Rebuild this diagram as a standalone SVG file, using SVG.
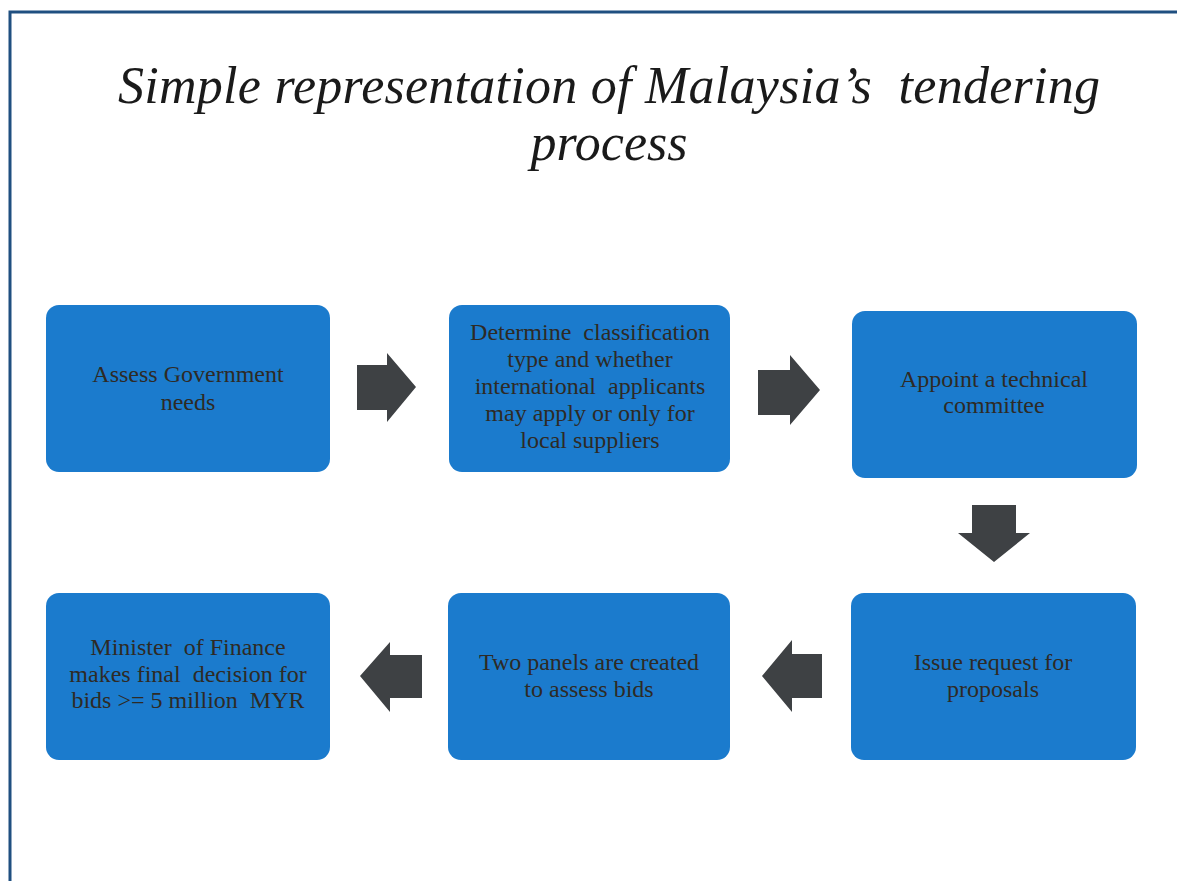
<svg xmlns="http://www.w3.org/2000/svg" width="1177" height="881" viewBox="0 0 1177 881" xml:space="preserve">
  <defs>
    <style>
      .title { font-family: "Liberation Serif", "Times New Roman", serif; font-style: italic; font-size: 52px; fill: #1a1a1a; white-space: pre; }
      .box { fill: #1b7bcd; }
      .label { font-family: "Liberation Serif", "Times New Roman", serif; font-size: 24px; fill: #2e2a25; text-anchor: middle; white-space: pre; }
      .arrow { fill: #3e4144; }
      .frame { stroke: #1f4f80; stroke-width: 3; fill: none; }
    </style>
  </defs>

  <rect width="1177" height="881" fill="#ffffff"/>

  <!-- slide frame: top and left edges -->
  <path class="frame" d="M10,881 V12 H1177"/>

  <!-- heading -->
  <g id="title">
    <text class="title" x="609" y="103" text-anchor="middle" textLength="982" lengthAdjust="spacing">Simple representation of Malaysia’s  tendering</text>
    <text class="title" x="609" y="160" text-anchor="middle">process</text>
  </g>

  <!-- process steps -->
  <g id="step-assess">
    <rect class="box" x="46" y="305" width="284" height="167" rx="13"/>
    <text class="label" x="188" y="382">Assess Government</text>
    <text class="label" x="188" y="410">needs</text>
  </g>

  <g id="step-classify">
    <rect class="box" x="449" y="305" width="281" height="167" rx="13"/>
    <text class="label" x="590" y="340">Determine  classification</text>
    <text class="label" x="590" y="367">type and whether</text>
    <text class="label" x="590" y="394">international  applicants</text>
    <text class="label" x="590" y="421">may apply or only for</text>
    <text class="label" x="590" y="448">local suppliers</text>
  </g>

  <g id="step-committee">
    <rect class="box" x="852" y="311" width="285" height="167" rx="13"/>
    <text class="label" x="994" y="387">Appoint a technical</text>
    <text class="label" x="994" y="413">committee</text>
  </g>

  <g id="step-request">
    <rect class="box" x="851" y="593" width="285" height="167" rx="13"/>
    <text class="label" x="993" y="670">Issue request for</text>
    <text class="label" x="993" y="697">proposals</text>
  </g>

  <g id="step-panels">
    <rect class="box" x="448" y="593" width="282" height="167" rx="13"/>
    <text class="label" x="589" y="670">Two panels are created</text>
    <text class="label" x="589" y="697">to assess bids</text>
  </g>

  <g id="step-minister">
    <rect class="box" x="46" y="593" width="284" height="167" rx="13"/>
    <text class="label" x="188" y="655">Minister  of Finance</text>
    <text class="label" x="188" y="682">makes final  decision for</text>
    <text class="label" x="188" y="708">bids &gt;= 5 million  MYR</text>
  </g>

  <!-- block arrows between steps -->
  <g id="connectors">
    <polygon class="arrow" points="357,365 387,365 387,353 416,387 387,422 387,410 357,410"/>
    <polygon class="arrow" points="758,370 790,370 790,355 820,390 790,425 790,415 758,415"/>
    <polygon class="arrow" points="972,505 1016,505 1016,533 1030,533 994,562 958,533 972,533"/>
    <polygon class="arrow" points="822,654 792,654 792,640 762,676 792,712 792,698 822,698"/>
    <polygon class="arrow" points="422,655 390,655 390,642 360,676 390,712 390,698 422,698"/>
  </g>
</svg>
